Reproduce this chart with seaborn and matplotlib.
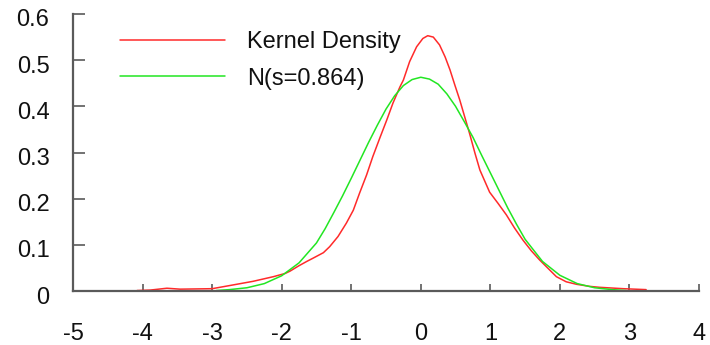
import numpy as np
import pandas as pd
import matplotlib
matplotlib.use("Agg")
import matplotlib.pyplot as plt
import matplotlib.transforms as mtransforms
import seaborn as sns

# ---- data ----
kde_x = [-4.08, -3.89, -3.65, -3.46, -3.00, -2.74, -2.41, -2.12, -1.95, -1.88,
         -1.76, -1.64, -1.55, -1.40, -1.31, -1.19, -1.07, -0.97, -0.88, -0.78,
         -0.69, -0.59, -0.49, -0.40, -0.30, -0.25, -0.16, -0.06, 0.03, 0.10,
         0.18, 0.27, 0.35, 0.42, 0.49, 0.56, 0.63, 0.70, 0.78, 0.85,
         0.99, 1.11, 1.23, 1.35, 1.47, 1.59, 1.71, 1.83, 1.95, 2.09,
         2.24, 2.43, 2.57, 2.91, 3.24]
kde_y = [0.001, 0.002, 0.006, 0.004, 0.005, 0.012, 0.021, 0.031, 0.038, 0.043,
         0.054, 0.064, 0.071, 0.083, 0.096, 0.118, 0.147, 0.175, 0.212, 0.251,
         0.291, 0.331, 0.370, 0.407, 0.442, 0.457, 0.497, 0.529, 0.547, 0.553,
         0.550, 0.533, 0.507, 0.479, 0.446, 0.414, 0.378, 0.342, 0.298, 0.262,
         0.214, 0.190, 0.165, 0.136, 0.110, 0.087, 0.067, 0.049, 0.031, 0.020,
         0.0145, 0.010, 0.008, 0.005, 0.003]

norm_x = [-2.94, -2.75, -2.50, -2.25, -2.00, -1.75, -1.50, -1.375, -1.25, -1.125,
          -1.00, -0.875, -0.75, -0.625, -0.50, -0.375, -0.25, -0.125, 0.00, 0.125,
          0.25, 0.375, 0.50, 0.625, 0.75, 0.875, 1.00, 1.125, 1.25, 1.375,
          1.50, 1.75, 2.00, 2.25, 2.50, 2.75, 2.95]
norm_y = [0.001, 0.003, 0.007, 0.016, 0.033, 0.061, 0.104, 0.135, 0.170, 0.206,
          0.244, 0.283, 0.322, 0.359, 0.394, 0.423, 0.445, 0.458, 0.463, 0.459,
          0.448, 0.427, 0.400, 0.367, 0.333, 0.294, 0.256, 0.218, 0.180, 0.145,
          0.112, 0.064, 0.034, 0.016, 0.007, 0.003, 0.001]

series_labels = ["Kernel Density", "N(s=0.864)"]
x_ticks = [-5, -4, -3, -2, -1, 0, 1, 2, 3, 4]
y_ticks = [0, 0.1, 0.2, 0.3, 0.4, 0.5, 0.6]
y_ticklabels = ["0", "0.1", "0.2", "0.3", "0.4", "0.5", "0.6"]

kde_df = pd.DataFrame({"x": kde_x, "y": kde_y})
norm_df = pd.DataFrame({"x": norm_x, "y": norm_y})

sns.set_theme(style="white")
plt.rcParams["font.family"] = ["Liberation Sans", "DejaVu Sans"]

W, H = 710, 345
fig = plt.figure(figsize=(W / 100, H / 100), dpi=100)
ax = fig.add_axes([73 / W, 1 - 291 / H, (699 - 73) / W, (291 - 14) / H])

sns.lineplot(data=kde_df, x="x", y="y", ax=ax, color="#ff2a2a", linewidth=1.1,
             label=series_labels[0], sort=False, estimator=None)
sns.lineplot(data=norm_df, x="x", y="y", ax=ax, color="#22e622", linewidth=1.1,
             label=series_labels[1], sort=False, estimator=None)

ax.set_xlim(-5, 4)
ax.set_ylim(0, 0.6)
ax.set_xticks(x_ticks)
ax.set_xticklabels([str(t) for t in x_ticks])
ax.set_yticks(y_ticks)
ax.set_yticklabels(y_ticklabels)
ax.set_xlabel("")
ax.set_ylabel("")

spine_col = "#5a5a5a"
for s in ["top", "right"]:
    ax.spines[s].set_visible(False)
for s in ["left", "bottom"]:
    ax.spines[s].set_color(spine_col)
    ax.spines[s].set_linewidth(1.6)

ax.tick_params(axis="x", direction="in", length=5.2, width=1.2, color=spine_col,
               pad=23, labelsize=17, labelcolor="#111111", bottom=True)
ax.tick_params(axis="y", direction="in", length=8.4, width=1.2, color=spine_col,
               pad=17, labelsize=17, labelcolor="#111111", left=True)

offset = mtransforms.ScaledTranslation(0, -4.0 / 100, fig.dpi_scale_trans)
for lab in ax.get_yticklabels():
    lab.set_transform(lab.get_transform() + offset)

leg = ax.legend(loc="upper left", bbox_to_anchor=(120 / W, 1 - 31 / H),
                bbox_transform=fig.transFigure, frameon=False, fontsize=17,
                handlelength=4.45, handletextpad=0.92, labelspacing=0.62,
                borderpad=0, borderaxespad=0)
for t in leg.get_texts():
    t.set_color("#111111")
for h in leg.get_lines():
    h.set_linewidth(1.1)

fig.savefig("out.png", dpi=100)
